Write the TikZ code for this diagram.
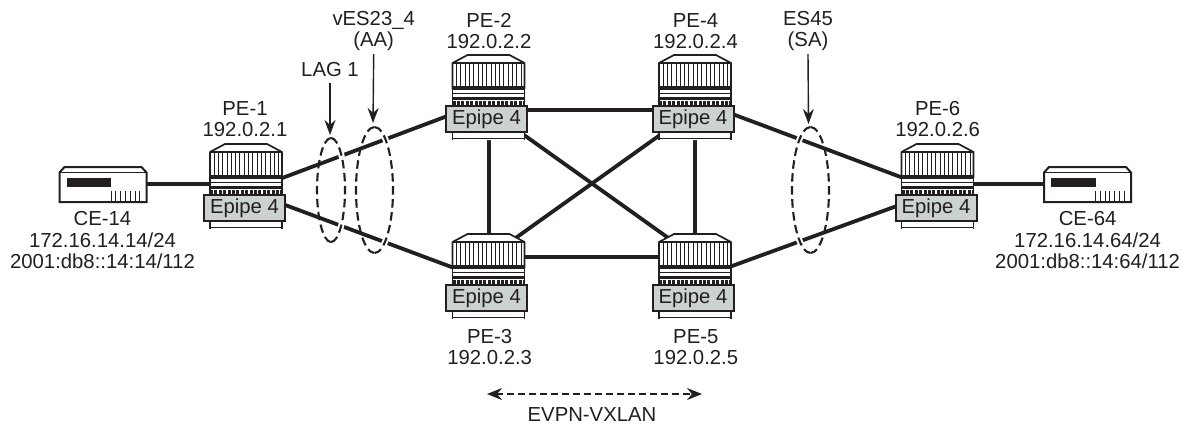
\documentclass[tikz,border=0pt]{standalone}
\usepackage{fontspec}
\setmainfont{Liberation Sans}
\usetikzlibrary{arrows.meta}
\definecolor{linkc}{HTML}{231F20}
\definecolor{svc}{HTML}{CCD2D0}
\tikzset{
  x=1pt,y=-1pt,
  link/.style={draw=linkc,line width=3.8pt},
  lbl/.style={font=\fontsize{20.3}{21.5}\selectfont,text=linkc,align=center,inner sep=0pt},
  epipe/.style={draw=linkc,line width=2pt,fill=svc,minimum width=81pt,minimum height=26pt,inner sep=0pt,font=\fontsize{20.3}{21.5}\selectfont,text=linkc},
  ringback/.style={draw=linkc,line width=2.1pt,dash pattern=on 8.5pt off 4.5pt},
  halo/.style={draw=white,line width=6pt},
  callout/.style={draw=linkc,line width=1.4pt,-{Stealth[length=15pt,width=11pt]}},
}
% router: name, centre x, top y, box centre x
\newcommand{\router}[4]{%
  \begin{scope}[shift={(#2,#3)}]
    \fill[white] (-36,8) -- (-21,0) -- (21,0) -- (36,8) -- (36,85) -- (-36,85) -- cycle;
    \draw[linkc,line width=1.7pt,line join=round] (-36,34) -- (-36,8) -- (-21,0) -- (21,0) -- (36,8) -- (36,34) (-36,8) -- (36,8);
    \foreach \i in {-32,-27.7,...,33}{\draw[linkc,line width=.75pt] (\i,9) -- (\i,31);}
    \draw[linkc,line width=3.6pt] (-36,33) -- (36,33);
    \draw[linkc,line width=1.7pt] (-36,38.5) -- (36,38.5);
    \draw[linkc,line width=2.6pt] (-36,43.5) -- (36,43.5);
    \draw[linkc,line width=1.7pt] (-36,33) -- (-36,85) (36,33) -- (36,85);
    \draw[linkc,line width=3.2pt,dash pattern=on 3pt off 1.4pt] (-36,48) -- (36,48);
    \draw[linkc,line width=1.7pt] (-36,83.5) -- (36,83.5);
  \end{scope}
  \node[epipe] (#1) at (#4,#3+64) {Epipe 4};
}
\newcommand{\cebox}[3]{%
  \begin{scope}[shift={(#2,#3)}]
    \fill[white] (-43.5,-18) rectangle (43.5,18);
    \draw[linkc,line width=2pt,line join=miter] (-43.5,-12) -- (-38.5,-17.5) -- (38.5,-17.5) -- (43.5,-12) -- (43.5,17.5) -- (-43.5,17.5) -- cycle;
    \draw[linkc,line width=1.7pt] (-43.5,-12) -- (43.5,-12);
    \fill[linkc] (-36.3,-6.5) rectangle (8,2);
    \foreach \i in {8,12.8,...,37.5}{\draw[linkc,line width=.9pt] (\i,6.5) -- (\i,18);}
  \end{scope}
}
\begin{document}
\begin{tikzpicture}[line cap=butt]
\useasboundingbox (0,0) rectangle (1186,426);
\fill[white] (0,0) rectangle (1186,426);
% rings, far halves
\draw[ringback] (331,138) arc[start angle=-90,end angle=-270,x radius=14,y radius=52];
\draw[ringback] (374.5,127) arc[start angle=-90,end angle=-270,x radius=18.5,y radius=63];
\draw[ringback] (810.5,127) arc[start angle=-90,end angle=90,x radius=18.5,y radius=63];
% link end coordinates
\coordinate (ce14c) at (103,184);
\coordinate (ce64c) at (1087,184);
\coordinate (p1c) at (245,184);
\coordinate (p6c) at (938,184);
\coordinate (p1u) at (245,192);
\coordinate (p1d) at (245,190);
\coordinate (p2l) at (489,100.4);
\coordinate (p3l) at (489,281);
\coordinate (p6u) at (938,191);
\coordinate (p6d) at (938,191);
\coordinate (p4r) at (695,100);
\coordinate (p5r) at (695,279.5);
\coordinate (p2) at (489,110);
\coordinate (p3) at (489,257);
\coordinate (p4) at (695,110);
\coordinate (p5) at (695,257);
% links
\draw[link] (ce14c) -- (p1c);
\draw[link] (p6c) -- (ce64c);
\draw[link] (p1u) -- (p2l);
\draw[link] (p1d) -- (p3l);
\draw[link] (p2) -- (p4);
\draw[link] (p3) -- (p5);
\draw[link] (p2) -- (p3);
\draw[link] (p4) -- (p5);
\draw[link] (p2) -- (p5);
\draw[link] (p3) -- (p4);
\draw[link] (p4r) -- (p6u);
\draw[link] (p5r) -- (p6d);
% rings, near halves
\draw[halo] (331,138) arc[start angle=-90,end angle=90,x radius=14,y radius=52];
\draw[ringback] (331,138) arc[start angle=-90,end angle=90,x radius=14,y radius=52];
\draw[halo] (374.5,127) arc[start angle=-90,end angle=90,x radius=18.5,y radius=63];
\draw[ringback] (374.5,127) arc[start angle=-90,end angle=90,x radius=18.5,y radius=63];
\draw[halo] (810.5,127) arc[start angle=-90,end angle=-270,x radius=18.5,y radius=63];
\draw[ringback] (810.5,127) arc[start angle=-90,end angle=-270,x radius=18.5,y radius=63];
% equipment
\cebox{ce14b}{103}{184.5}
\cebox{ce64b}{1087.5}{184.5}
\router{r1}{246}{144}{244.5}
\router{r2}{488.5}{55}{486.5}
\router{r3}{488.5}{234}{486.5}
\router{r4}{695}{55}{693}
\router{r5}{695}{234}{693}
\router{r6}{937.5}{144}{936}
% labels
\node[lbl] (t1) at (245,119) {PE-1\\192.0.2.1};
\node[lbl] (t2) at (489,31) {PE-2\\192.0.2.2};
\node[lbl] (t4) at (695.5,31) {PE-4\\192.0.2.4};
\node[lbl] (t6) at (937.7,119) {PE-6\\192.0.2.6};
\node[lbl] (t3) at (489.7,347) {PE-3\\192.0.2.3};
\node[lbl] (t5) at (695.8,347) {PE-5\\192.0.2.5};
\node[lbl] (t14) at (102.5,240.5) {CE-14\\172.16.14.14/24\\2001:db8::14:14/112};
\node[lbl] (t64) at (1087.6,240.5) {CE-64\\172.16.14.64/24\\2001:db8::14:64/112};
\node[lbl] (lag) at (330,70) {LAG 1};
\node[lbl] (ves) at (373.7,31) {vES23\_4\\(AA)};
\node[lbl] (es) at (808,31) {ES45\\(SA)};
\node[lbl] (evpn) at (592,415) {EVPN-VXLAN};
% callouts
\coordinate (lagtip) at (330,135);
\coordinate (vestip) at (373,123);
\coordinate (estip) at (808.5,124);
\draw[callout] (lag) ++(0,13) -- (lagtip);
\draw[callout] (ves) ++(0,23) -- (vestip);
\draw[callout] (es) ++(0,23) -- (estip);
\coordinate (al) at (487,394);
\coordinate (ar) at (702,394);
\draw[draw=linkc,line width=1.8pt,dash pattern=on 7pt off 4pt,{Stealth[length=15pt,width=12pt]}-{Stealth[length=15pt,width=12pt]}] (al) -- (ar);
\end{tikzpicture}
\end{document}
